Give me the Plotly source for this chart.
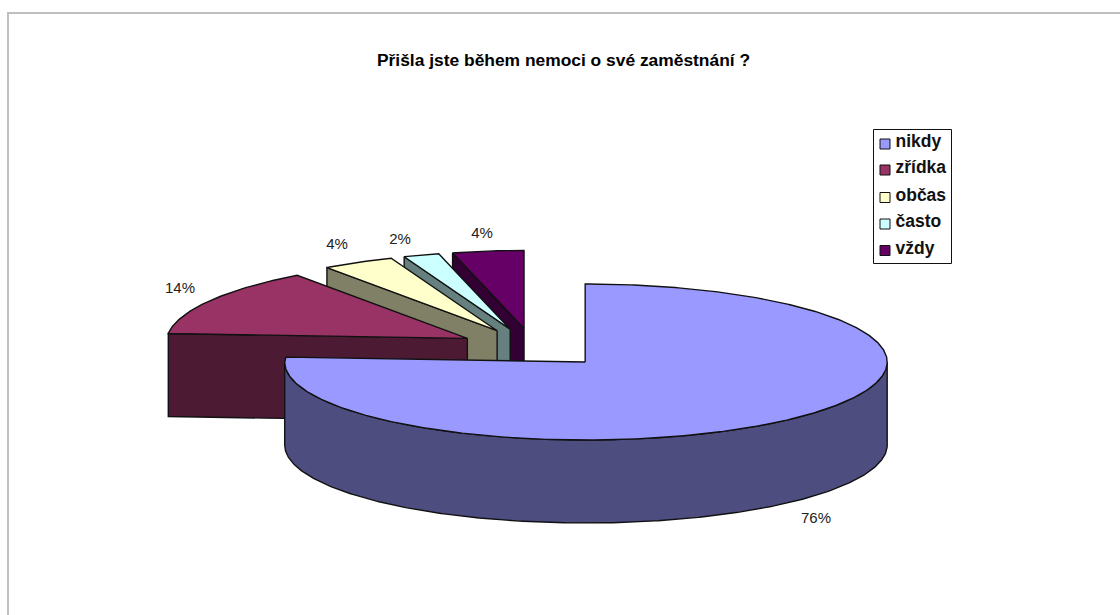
import math
import plotly.graph_objects as go

# Share of respondents per answer
categories = ["nikdy", "zřídka", "občas", "často", "vždy"]
shares = [76, 14, 4, 2, 4]
title_text = "Přišla jste během nemoci o své zaměstnání ?"

top_colors = ["#9999FF", "#993366", "#FFFFCC", "#CCFFFF", "#660066"]
side_colors = ["#4D4D80", "#4D1A33", "#808066", "#668080", "#330033"]

# Projection of the exploded 3-D pie onto the page, in page pixels
CX, CY = 533.5, 347.8
RX, RY = 302.0, 78.0
DEPTH = 83.0
EXPLODE = 0.25
LEFT_NARROWING = 0.995   # the left half of the rim sits slightly closer in
BACK_TAPER = 0.045       # rim recedes towards the back-left of the view
OUTLINE = "#111111"


def point(a_deg, radial=1.0):
    a = math.radians(a_deg)
    return RX * radial * math.sin(a), -RY * radial * math.cos(a)


def rim(a_deg):
    x, y = point(a_deg)
    if x < 0:
        x *= LEFT_NARROWING
        x *= 1 - BACK_TAPER * max(0.0, math.cos(math.radians(a_deg)))
    return x, y


def arc(start, end, ox, oy, dy=0.0):
    n = max(2, int(abs(end - start) * 1.5))
    pts = [rim(start + (end - start) * i / n) for i in range(n + 1)]
    return [ox + p[0] for p in pts], [oy + p[1] + dy for p in pts]


# Angular extent of each slice, clockwise from twelve o'clock
angles = []
running = 0.0
total = sum(shares)
for share in shares:
    angles.append((running, running + 360.0 * share / total))
    running += 360.0 * share / total

fig = go.Figure()


def add_poly(xs, ys, color):
    fig.add_trace(go.Scatter(
        x=xs, y=ys, mode="lines", fill="toself", fillcolor=color,
        line=dict(color=OUTLINE, width=1.4), hoverinfo="skip", showlegend=False,
    ))


# Back slices first, the large front slice last so it overlaps the rest
for idx in [4, 3, 2, 1, 0]:
    start, end = angles[idx]
    mid = (start + end) / 2
    dx, dy = point(mid, EXPLODE)
    ox, oy = CX + dx, CY + dy

    # Cut face along the leading edge
    if idx != 0:
        sx, sy = rim(start)
        add_poly([ox, ox + sx, ox + sx, ox, ox],
                 [oy, oy + sy, oy + sy + DEPTH, oy + DEPTH, oy], side_colors[idx])

    # Outer wall, only where the rim faces the viewer
    vis_start, vis_end = max(start, 90.0), min(end, 270.0)
    if vis_start < vis_end:
        ax, ay = arc(vis_start, vis_end, ox, oy)
        bx, by = arc(vis_start, vis_end, ox, oy, DEPTH)
        add_poly(ax + bx[::-1] + [ax[0]], ay + by[::-1] + [ay[0]], side_colors[idx])

    # Top surface
    ax, ay = arc(start, end, ox, oy)
    add_poly([ox] + ax + [ox], [oy] + ay + [oy], top_colors[idx])

# Percentage labels next to their slices
label_x = [816, 180, 337, 400, 482]
label_y = [519, 289, 245, 240, 234]
fig.add_trace(go.Scatter(
    x=label_x, y=label_y, mode="text", text=[f"{s}%" for s in shares],
    textposition="middle center",
    textfont=dict(family="Liberation Sans, Arial", size=15, color="#222222"),
    hoverinfo="skip", showlegend=False,
))

# Legend column
legend_rows = [144, 170, 197.5, 224, 250.5]
fig.add_trace(go.Scatter(
    x=[885] * len(categories), y=legend_rows, mode="markers",
    marker=dict(symbol="square", size=10, color=top_colors, line=dict(color="#111111", width=1)),
    hoverinfo="skip", showlegend=False,
))
fig.add_trace(go.Scatter(
    x=[895.5] * len(categories), y=[r - 1 for r in legend_rows], mode="text", text=categories,
    textposition="middle right",
    textfont=dict(family="Liberation Sans, Arial", size=17.5, color="#111111", weight="bold"),
    hoverinfo="skip", showlegend=False,
))

fig.add_annotation(
    x=563, y=60, xref="x", yref="y", text=f"<b>{title_text}</b>", showarrow=False,
    font=dict(family="Liberation Sans, Arial", size=17.4, color="#000000"),
)

fig.update_layout(
    width=1120, height=615, margin=dict(l=0, r=0, t=0, b=0),
    paper_bgcolor="white", plot_bgcolor="white", showlegend=False,
    xaxis=dict(range=[0, 1120], visible=False, fixedrange=True),
    yaxis=dict(range=[615, 0], visible=False, fixedrange=True),
    shapes=[
        dict(type="line", xref="x", yref="y", x0=8, x1=8, y0=12, y1=615,
             line=dict(color="#C0C0C0", width=2), layer="below"),
        dict(type="line", xref="x", yref="y", x0=7, x1=1120, y0=13, y1=13,
             line=dict(color="#C0C0C0", width=2), layer="below"),
        dict(type="rect", xref="x", yref="y", x0=873.5, x1=951.5, y0=129.5, y1=263.5,
             line=dict(color="#111111", width=1), fillcolor="white", layer="below"),
    ],
)

fig.write_html("out.html", config=dict(displayModeBar=False))
